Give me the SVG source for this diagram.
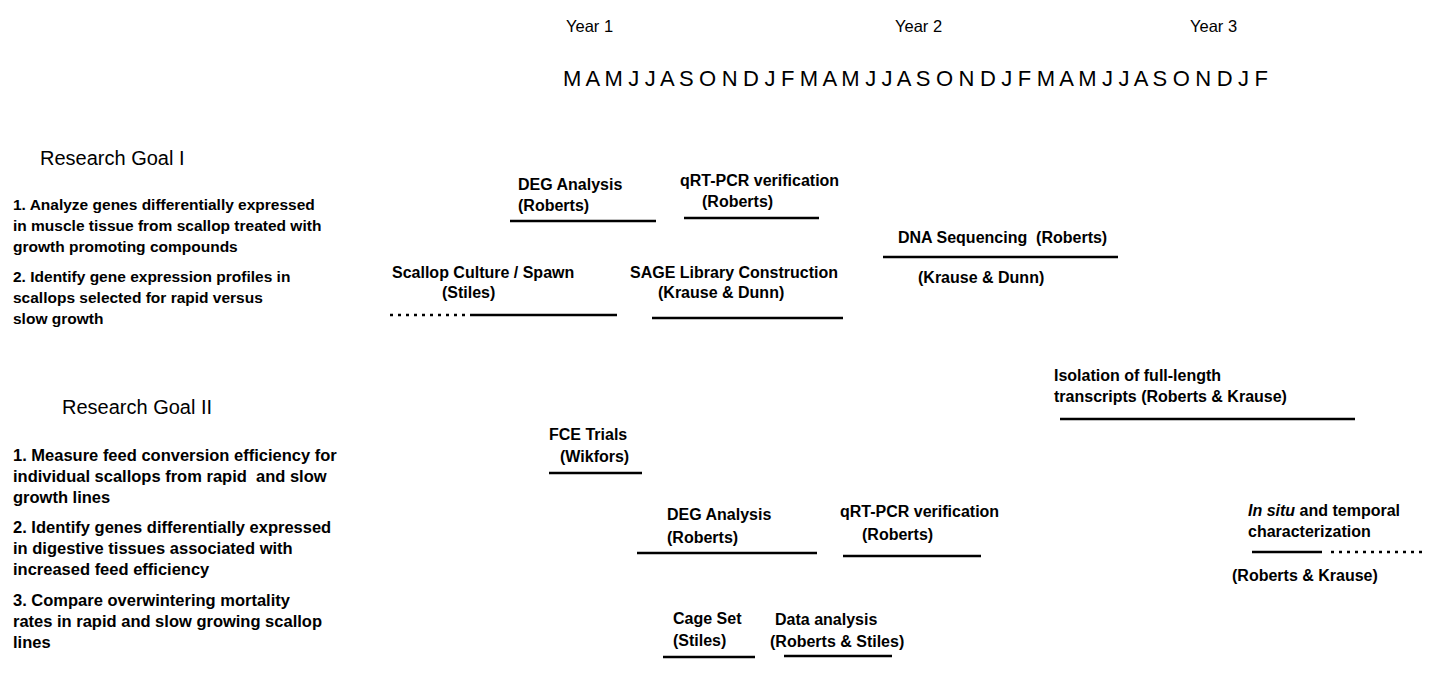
<svg xmlns="http://www.w3.org/2000/svg" width="1438" height="690" viewBox="0 0 1438 690">
<style>
text{font-family:"Liberation Sans",Arial,sans-serif;fill:#000}
.yr{font-size:16.5px}
.mo{font-size:22px}
.hd{font-size:20px}
.bd{font-size:15.5px;font-weight:bold}
.bd2{font-size:16.5px;font-weight:bold}
.lb{font-size:16px;font-weight:bold}
.bar{stroke:#000;stroke-width:2.5;fill:none}
.dot{stroke:#000;stroke-width:2.5;fill:none;stroke-dasharray:3 5}
</style>
<rect width="1438" height="690" fill="#fff"/>
<g id="timeline">
<text class="yr" x="566" y="32">Year 1</text>
<text class="yr" x="895" y="32">Year 2</text>
<text class="yr" x="1190" y="32">Year 3</text>
<text class="mo" x="563" y="86" textLength="705" lengthAdjust="spacing">M A M J J A S O N D J F M A M J J A S O N D J F M A M J J A S O N D J F</text>
</g>
<g id="goal1">
<text class="hd" x="40" y="165">Research Goal I</text>
<text class="bd" x="13" y="210">1. Analyze genes differentially expressed</text>
<text class="bd" x="13" y="231">in muscle tissue from scallop treated with</text>
<text class="bd" x="13" y="252">growth promoting compounds</text>
<text class="bd" x="13" y="282">2. Identify gene expression profiles in</text>
<text class="bd" x="13" y="303">scallops selected for rapid versus</text>
<text class="bd" x="13" y="324">slow growth</text>
</g>
<g id="goal2">
<text class="hd" x="62" y="414">Research Goal II</text>
<text class="bd2" x="13" y="461">1. Measure feed conversion efficiency for</text>
<text class="bd2" x="13" y="482" xml:space="preserve">individual scallops from rapid  and slow</text>
<text class="bd2" x="13" y="503">growth lines</text>
<text class="bd2" x="13" y="533">2. Identify genes differentially expressed</text>
<text class="bd2" x="13" y="554">in digestive tissues associated with</text>
<text class="bd2" x="13" y="575">increased feed efficiency</text>
<text class="bd2" x="13" y="606">3. Compare overwintering mortality</text>
<text class="bd2" x="13" y="627">rates in rapid and slow growing scallop</text>
<text class="bd2" x="13" y="648">lines</text>
</g>
<g id="deg1">
<text class="lb" x="518" y="190">DEG Analysis</text>
<text class="lb" x="518" y="211">(Roberts)</text>
<line class="bar" x1="510" y1="221" x2="656" y2="221"/>
</g>
<g id="qrt1">
<text class="lb" x="680" y="186">qRT-PCR verification</text>
<text class="lb" x="702" y="207">(Roberts)</text>
<line class="bar" x1="684" y1="218" x2="819" y2="218"/>
</g>
<g id="culture">
<text class="lb" x="392" y="278">Scallop Culture / Spawn</text>
<text class="lb" x="442" y="298">(Stiles)</text>
<line class="dot" x1="390" y1="315" x2="466" y2="315"/>
<line class="bar" x1="470" y1="315" x2="617" y2="315"/>
</g>
<g id="sage">
<text class="lb" x="630" y="278">SAGE Library Construction</text>
<text class="lb" x="658" y="298">(Krause &amp; Dunn)</text>
<line class="bar" x1="652" y1="318" x2="843" y2="318"/>
</g>
<g id="dnaseq">
<text class="lb" x="898" y="243" xml:space="preserve">DNA Sequencing  (Roberts)</text>
<line class="bar" x1="883" y1="257" x2="1118" y2="257"/>
<text class="lb" x="918" y="283">(Krause &amp; Dunn)</text>
</g>
<g id="isolation">
<text class="lb" x="1054" y="381">Isolation of full-length</text>
<text class="lb" x="1054" y="402">transcripts (Roberts &amp; Krause)</text>
<line class="bar" x1="1060" y1="419" x2="1355" y2="419"/>
</g>
<g id="fce">
<text class="lb" x="549" y="440">FCE Trials</text>
<text class="lb" x="560" y="462">(Wikfors)</text>
<line class="bar" x1="549" y1="473" x2="642" y2="473"/>
</g>
<g id="deg2">
<text class="lb" x="667" y="520">DEG Analysis</text>
<text class="lb" x="667" y="543">(Roberts)</text>
<line class="bar" x1="637" y1="553" x2="817" y2="553"/>
</g>
<g id="qrt2">
<text class="lb" x="840" y="517">qRT-PCR verification</text>
<text class="lb" x="862" y="540">(Roberts)</text>
<line class="bar" x1="843" y1="556" x2="981" y2="556"/>
</g>
<g id="insitu">
<text class="lb" x="1248" y="516"><tspan font-style="italic">In situ</tspan> and temporal</text>
<text class="lb" x="1248" y="537">characterization</text>
<line class="bar" x1="1252" y1="552" x2="1322" y2="552"/>
<line class="dot" x1="1331" y1="552" x2="1424" y2="552"/>
<text class="lb" x="1232" y="581">(Roberts &amp; Krause)</text>
</g>
<g id="cage">
<text class="lb" x="673" y="624">Cage Set</text>
<text class="lb" x="673" y="646">(Stiles)</text>
<line class="bar" x1="663" y1="657" x2="755" y2="657"/>
</g>
<g id="data">
<text class="lb" x="775" y="625">Data analysis</text>
<text class="lb" x="770" y="647">(Roberts &amp; Stiles)</text>
<line class="bar" x1="784" y1="656" x2="892" y2="656"/>
</g>
<g id="connectors"/>
</svg>
